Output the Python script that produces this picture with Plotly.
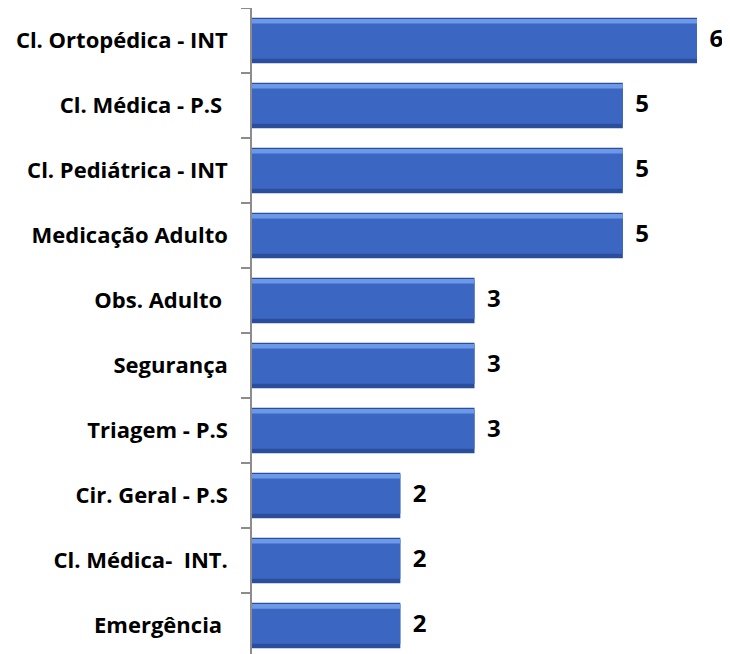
import plotly.graph_objects as go

categories = ["Cl. Ortopédica - INT", "Cl. Médica - P.S\u00a0", "Cl. Pediátrica - INT",
              "Medicação Adulto", "Obs. Adulto\u00a0", "Segurança", "Triagem - P.S",
              "Cir. Geral - P.S", "Cl. Médica-\u00a0\u00a0INT.", "Emergência\u00a0"]
values = [6, 5, 5, 5, 3, 3, 3, 2, 2, 2]

FONT = "'Open Sans', sans-serif"
W = 0.70

fig = go.Figure()
# base (dark edge)
fig.add_trace(go.Bar(y=categories, x=values, orientation="h", width=W,
                     marker=dict(color="#2A4D9C", line=dict(width=0)),
                     hoverinfo="skip", showlegend=False))
# main face
fig.add_trace(go.Bar(y=categories, x=values, orientation="h", width=W - 0.1, offset=-W / 2 + 0.03,
                     marker=dict(color="#3B67C3", line=dict(width=0)),
                     showlegend=False))
# top highlight
fig.add_trace(go.Bar(y=categories, x=values, orientation="h", width=0.07, offset=-W / 2 + 0.02,
                     marker=dict(color="#6C98E8", line=dict(width=0)),
                     hoverinfo="skip", showlegend=False))
# value labels
fig.add_trace(go.Scatter(y=categories, x=values, mode="text",
                         text=[f"\u00a0\u00a0{v}" for v in values],
                         textposition="middle right",
                         textfont=dict(family=FONT, size=24, color="black", weight="bold"),
                         cliponaxis=False, hoverinfo="skip", showlegend=False))

fig.update_layout(
    width=722, height=646,
    margin=dict(l=244, r=33, t=0, b=0, autoexpand=False),
    barmode="overlay",
    plot_bgcolor="white", paper_bgcolor="white",
    font=dict(family=FONT, color="black"),
)
fig.update_xaxes(range=[0, 6], visible=False, showgrid=False, zeroline=False, automargin=False)
fig.update_yaxes(
    type="category", categoryorder="array", categoryarray=categories,
    range=[9.438, -0.5], automargin=False,
    showline=True, linecolor="#8C8C8C", linewidth=1.5,
    ticks="outside", ticklen=9, tickcolor="#8C8C8C", tickwidth=1.5,
    tickson="boundaries", showgrid=False,
    ticklabelstandoff=18,
    tickfont=dict(family=FONT, size=22, color="black", weight="bold"),
)

fig.write_html("out.html")
